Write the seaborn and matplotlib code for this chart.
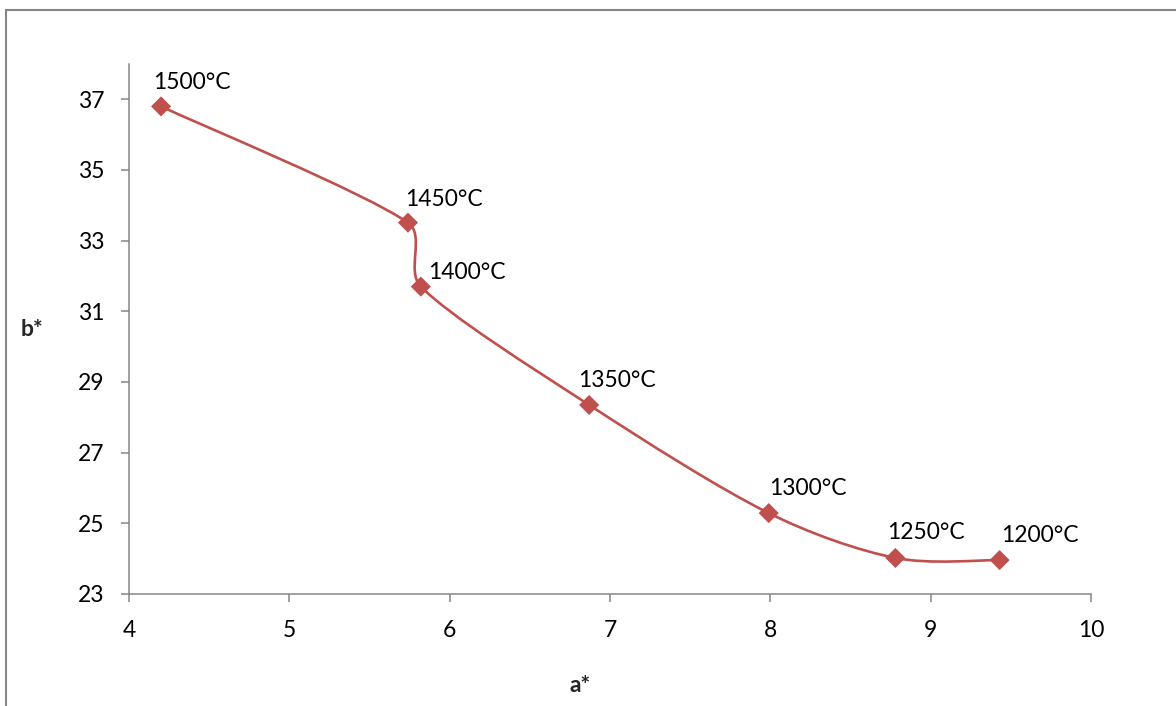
"""Colour coordinates a*/b* versus firing temperature."""

import matplotlib.pyplot as plt
import numpy as np
import pandas as pd
import seaborn as sns
from matplotlib.lines import Line2D
from matplotlib.path import Path
from matplotlib.patches import PathPatch

a_star = [4.20, 5.74, 5.82, 6.87, 7.99, 8.78, 9.43]
b_star = [36.80, 33.51, 31.70, 28.35, 25.29, 24.02, 23.96]
labels = ["1500°C", "1450°C", "1400°C", "1350°C", "1300°C", "1250°C", "1200°C"]

# label offsets in pixels (dx, dy) relative to each marker
label_offsets = [(-8, 24), (-3, 23), (7, 14), (-11, 24), (0, 25), (-8, 25), (1, 25)]

RED = "#C0504D"
GREY = "#868686"
FS = 16.5

sns.set_theme(style="white")
plt.rcParams["font.family"] = ["Lato", "DejaVu Sans"]

df = pd.DataFrame({"a": a_star, "b": b_star, "label": labels})

fig = plt.figure(figsize=(11.76, 7.06), dpi=100)
ax = fig.add_axes([129 / 1176, 1 - 594 / 706, (1091 - 129) / 1176, (594 - 64) / 706])
ax.set_xlim(4, 10)
ax.set_ylim(23, 38)


def smooth_path(ax, xs, ys):
    """Excel-like smoothed line: Catmull-Rom Bezier in screen space, handles capped."""
    pts = ax.transData.transform(np.column_stack([xs, ys]))
    n = len(pts)
    verts = [pts[0]]
    codes = [Path.MOVETO]
    for i in range(n - 1):
        p0 = pts[max(i - 1, 0)]
        p1 = pts[i]
        p2 = pts[i + 1]
        p3 = pts[min(i + 2, n - 1)]
        seg = np.linalg.norm(p2 - p1)
        t1 = (p2 - p0) / 6.0
        t2 = (p3 - p1) / 6.0
        cap = seg / 3.0
        if np.linalg.norm(t1) > cap:
            t1 = t1 / np.linalg.norm(t1) * cap
        if np.linalg.norm(t2) > cap:
            t2 = t2 / np.linalg.norm(t2) * cap
        verts += [p1 + t1, p2 - t2, p2]
        codes += [Path.CURVE4] * 3
    verts = ax.transData.inverted().transform(np.array(verts))
    return Path(verts, codes)


ax.add_patch(PathPatch(smooth_path(ax, df["a"], df["b"]), facecolor="none",
                       edgecolor=RED, lw=1.9, zorder=2))
sns.scatterplot(data=df, x="a", y="b", marker="D", s=105, color=RED,
                edgecolor="none", ax=ax, zorder=3)

for (x, y, txt), (dx, dy) in zip(df[["a", "b", "label"]].values, label_offsets):
    ax.annotate(txt, (x, y), xytext=(dx * 0.72, dy * 0.72), textcoords="offset points",
                ha="left", va="center", fontsize=FS, color="black")

ax.set_xticks(range(4, 11))
ax.set_yticks(range(23, 38, 2))
ax.tick_params(axis="both", direction="out", length=5.5, width=1.1, color=GREY,
               labelsize=FS, labelcolor="black", left=True, bottom=True)
ax.tick_params(axis="y", pad=12)
ax.tick_params(axis="x", pad=13)
for side in ["top", "right"]:
    ax.spines[side].set_visible(False)
for side in ["left", "bottom"]:
    ax.spines[side].set_color(GREY)
    ax.spines[side].set_linewidth(1.1)
ax.set_xlabel("")
ax.set_ylabel("")
ax.grid(False)

fig.text(32 / 1176, 1 - 330 / 706, "b*", fontsize=FS, fontweight="bold", ha="center", va="center")
fig.text(580 / 1176, 1 - 686 / 706, "a*", fontsize=FS, fontweight="bold", ha="center", va="center")

# outer chart frame (left and top edges visible)
fig.add_artist(Line2D([6 / 1176, 6 / 1176], [0, 1 - 10 / 706], color=GREY, lw=1.5))
fig.add_artist(Line2D([6 / 1176, 1], [1 - 10 / 706, 1 - 10 / 706], color=GREY, lw=1.5))

fig.savefig("out.png", dpi=100)
plt.close(fig)
